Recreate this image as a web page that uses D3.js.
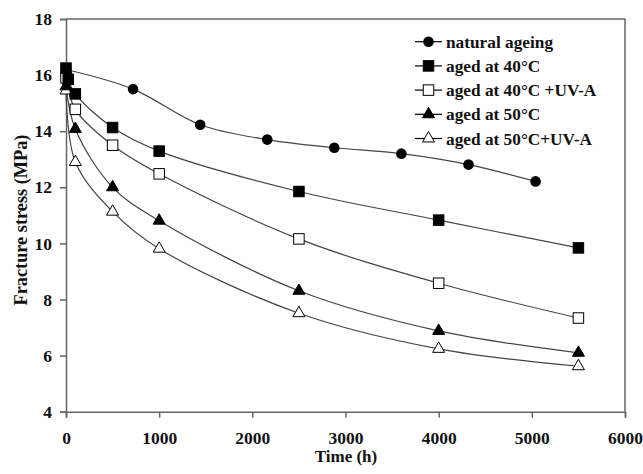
<!DOCTYPE html>
<html>
<head>
<meta charset="utf-8">
<script src="https://cdn.jsdelivr.net/npm/d3@7"></script>
<style>
  html, body { margin: 0; padding: 0; background: #fff; }
  svg { display: block; }
  text { font-family: "Liberation Serif", "Times New Roman", serif; font-weight: bold; fill: #111; }
</style>
</head>
<body>
<svg id="chart" width="643" height="474"></svg>
<script>
// ---- data ----
const seriesNames = ["natural ageing", "aged at 40°C", "aged at 40°C +UV-A", "aged at 50°C", "aged at 50°C+UV-A"];
const markerTypes = ["circle", "squareFilled", "squareOpen", "triangleFilled", "triangleOpen"];

const naturalTime   = [0, 720, 1440, 2160, 2880, 3600, 4320, 5040];
const naturalStress = [16.2, 15.5, 14.23, 13.7, 13.41, 13.2, 12.81, 12.21];

const aged40Time   = [0, 24, 100, 500, 1000, 2500, 4000, 5500];
const aged40Stress = [16.25, 15.85, 15.33, 14.13, 13.29, 11.85, 10.83, 9.84];

const aged40UVTime   = [0, 100, 500, 1000, 2500, 4000, 5500];
const aged40UVStress = [15.9, 14.78, 13.5, 12.48, 10.16, 8.58, 7.34];

const aged50Time   = [0, 100, 500, 1000, 2500, 4000, 5500];
const aged50Stress = [15.6, 14.08, 12.0, 10.81, 8.31, 6.88, 6.1];

const aged50UVTime   = [0, 100, 500, 1000, 2500, 4000, 5500];
const aged50UVStress = [15.45, 12.9, 11.13, 9.81, 7.51, 6.24, 5.62];

const xTicks = [0, 1000, 2000, 3000, 4000, 5000, 6000];
const yTicks = [4, 6, 8, 10, 12, 14, 16, 18];

const allTimes = [naturalTime, aged40Time, aged40UVTime, aged50Time, aged50UVTime];
const allStress = [naturalStress, aged40Stress, aged40UVStress, aged50Stress, aged50UVStress];

(function () {
// ---- layout ----
const svg = d3.select("#chart");
const pLeft = 66, pRight = 625, pTop = 19, pBottom = 411.7;
const x = d3.scaleLinear().domain([0, 6000]).range([pLeft, pRight]);
const y = d3.scaleLinear().domain([4, 18]).range([pBottom, pTop]);
const axisColor = "#666";

// frame (top and right)
svg.append("path")
  .attr("d", `M${pLeft},${pTop}H${pRight}V${pBottom}`)
  .attr("fill", "none").attr("stroke", axisColor).attr("stroke-width", 1.5);

// x axis
const gx = svg.append("g").attr("transform", `translate(0,${pBottom})`)
  .call(d3.axisBottom(x).tickValues(xTicks).tickSize(6).tickPadding(14).tickFormat(d3.format("d")));
gx.select(".domain").attr("stroke", axisColor).attr("stroke-width", 1.5);
gx.selectAll(".tick line").attr("stroke", axisColor).attr("stroke-width", 1.5);
gx.selectAll("text").style("font-size", "17.5px").style("font-family", "Liberation Serif").style("font-weight", "bold").attr("fill", "#111");

// y axis
const gy = svg.append("g").attr("transform", `translate(${pLeft},0)`)
  .call(d3.axisLeft(y).tickValues(yTicks).tickSize(6).tickPadding(8).tickFormat(d3.format("d")));
gy.select(".domain").attr("stroke", axisColor).attr("stroke-width", 1.5);
gy.selectAll(".tick line").attr("stroke", axisColor).attr("stroke-width", 1.5);
gy.selectAll("text").style("font-size", "17.5px").style("font-family", "Liberation Serif").style("font-weight", "bold").attr("fill", "#111");

// axis titles
svg.append("text").attr("x", 346).attr("y", 462).attr("text-anchor", "middle")
  .style("font-size", "17px").text("Time (h)");
svg.append("text").attr("transform", "translate(26.5,220) rotate(-90)").attr("text-anchor", "middle")
  .style("font-size", "18.3px").text("Fracture stress (MPa)");

// lines
const line = d3.line().x(d => x(d[0])).y(d => y(d[1])).curve(d3.curveCatmullRom.alpha(0.5));
const lineColor = "#444";

function drawMarker(g, type, cx, cy) {
  if (type === "circle") {
    g.append("circle").attr("cx", cx).attr("cy", cy).attr("r", 5.3).attr("fill", "#000");
  } else if (type === "squareFilled" || type === "squareOpen") {
    const s = 10.5;
    g.append("rect").attr("x", cx - s / 2).attr("y", cy - s / 2).attr("width", s).attr("height", s)
      .attr("fill", type === "squareFilled" ? "#000" : "#fff").attr("stroke", "#000").attr("stroke-width", 1);
  } else {
    const s = 12;
    const h = s * Math.sqrt(3) / 2;
    const pts = [[cx, cy - h * 2 / 3], [cx + s / 2, cy + h / 3], [cx - s / 2, cy + h / 3]];
    g.append("polygon").attr("points", pts.map(p => p.join(",")).join(" "))
      .attr("fill", type === "triangleFilled" ? "#000" : "#fff").attr("stroke", "#000").attr("stroke-width", 1);
  }
}

for (let i = seriesNames.length - 1; i >= 0; i--) {
  const pts = allTimes[i].map((t, k) => [t, allStress[i][k]]);
  svg.append("path").datum(pts).attr("d", line)
    .attr("fill", "none").attr("stroke", lineColor).attr("stroke-width", 1.2);
}
for (let i = seriesNames.length - 1; i >= 0; i--) {
  const g = svg.append("g");
  allTimes[i].forEach((t, k) => drawMarker(g, markerTypes[i], x(t), y(allStress[i][k])));
}

// legend
const legendX1 = 415, legendX2 = 442, legendTextX = 446;
const legendY0 = 41.7, legendStep = 24.2;
seriesNames.forEach((name, i) => {
  const ly = legendY0 + i * legendStep;
  const g = svg.append("g");
  g.append("line").attr("x1", legendX1).attr("x2", legendX2).attr("y1", ly).attr("y2", ly)
    .attr("stroke", "#000").attr("stroke-width", 1.2);
  drawMarker(g, markerTypes[i], (legendX1 + legendX2) / 2, ly);
  g.append("text").attr("x", legendTextX).attr("y", ly).attr("dy", "0.35em")
    .style("font-size", "17.3px").text(name);
});
})();
</script>
</body>
</html>
